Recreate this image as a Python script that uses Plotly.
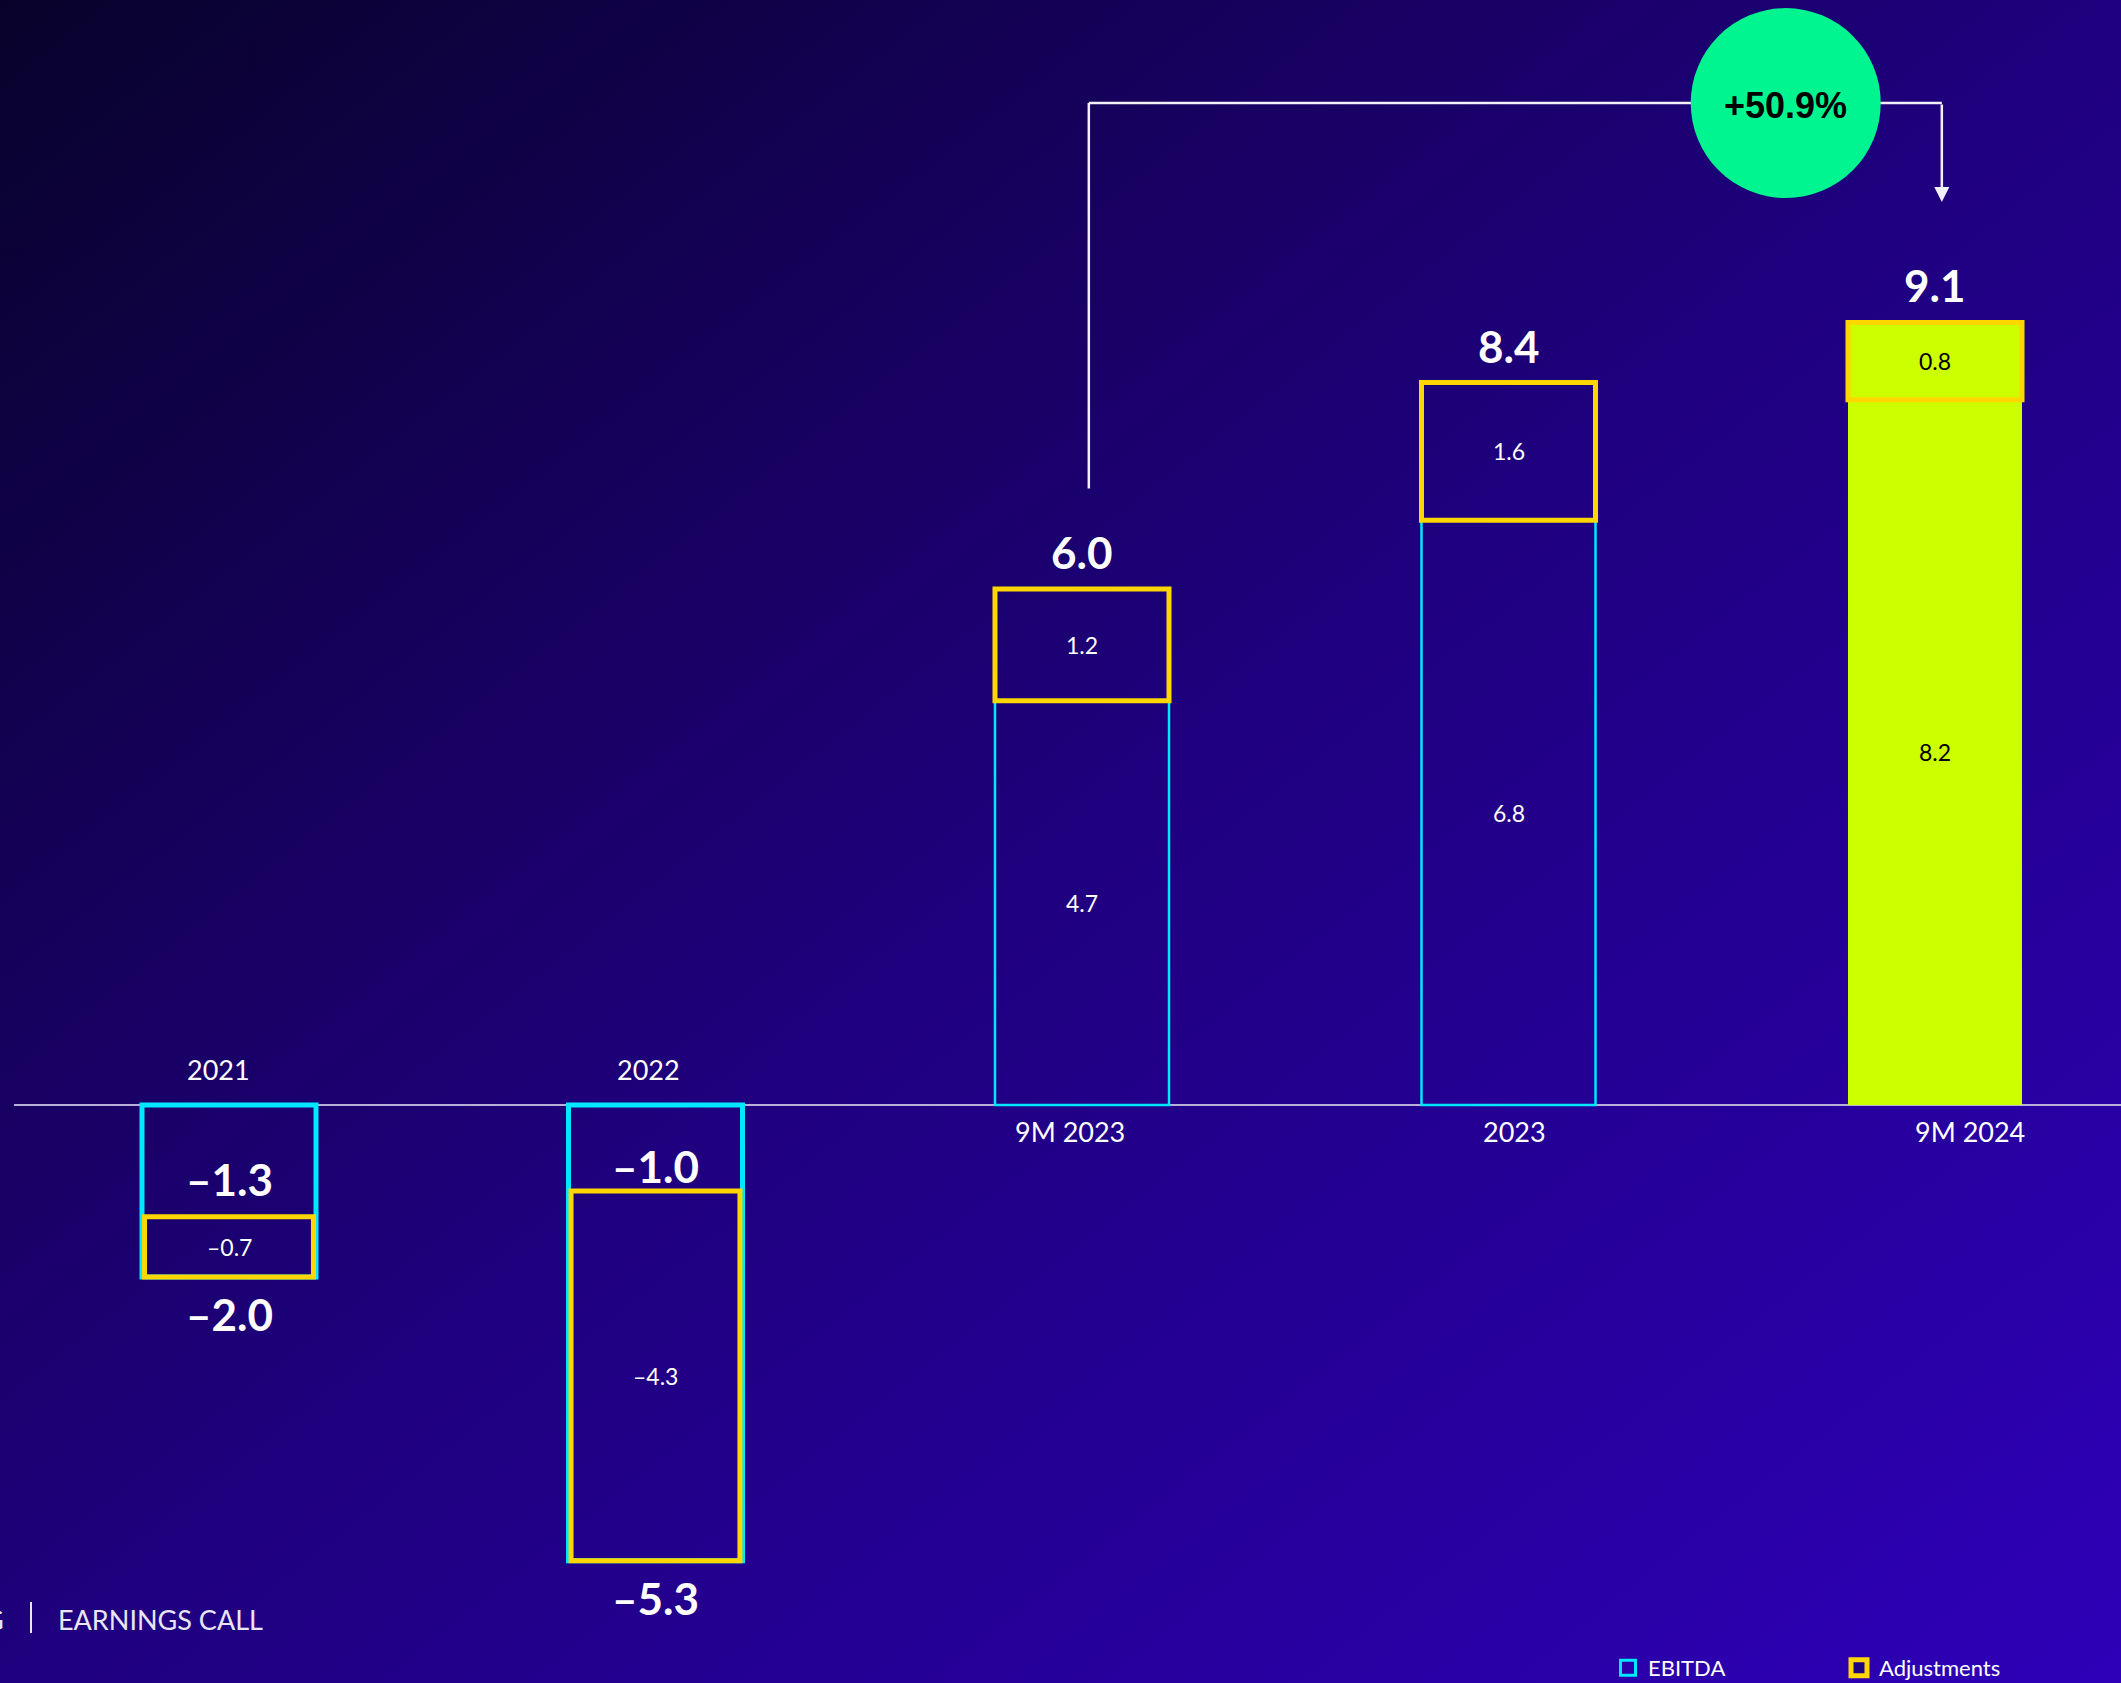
import base64
import plotly.graph_objects as go

# ---------------- data ----------------
categories = ["2021", "2022", "9M 2023", "2023", "9M 2024"]
ebitda = [-1.3, -1.0, 4.7, 6.8, 8.2]
adjustments = [-0.7, -4.3, 1.2, 1.6, 0.8]
totals = [-2.0, -5.3, 6.0, 8.4, 9.1]
highlight = [False, False, False, False, True]
growth_label = "+50.9%"
growth_from, growth_to = 2, 4
footer_left = "G"
footer_right = "EARNINGS CALL"

# ---------------- style ----------------
W, H = 2121, 1683
CYAN = "#00E8FF"
YELLOW = "#FFD700"
LIME = "#CCFF00"
GREEN = "#00F590"
WHITE = "#FFFFFF"
FONT = "Lato"
label_xshift = [-11, -7, -12, 6, 35]

def fmt(v):
    s = f"{abs(v):.1f}"
    return ("\u2013" + s) if v < 0 else s

# gradient background
svg = (
    f'<svg xmlns="http://www.w3.org/2000/svg" width="{W}" height="{H}" preserveAspectRatio="none">'
    '<defs><linearGradient id="g" x1="0" y1="0" x2="1" y2="1">'
    '<stop offset="0" stop-color="#08022b"/>'
    '<stop offset="0.5" stop-color="#1f007e"/>'
    '<stop offset="1" stop-color="#2e00b8"/>'
    '</linearGradient></defs>'
    f'<rect width="{W}" height="{H}" fill="url(#g)"/></svg>'
)
bg_src = "data:image/svg+xml;base64," + base64.b64encode(svg.encode()).decode()

xi = list(range(len(categories)))

# EBITDA box spans to the total for negative years
ebitda_extent = [t if t < 0 else e for e, t in zip(ebitda, totals)]
adj_base = ebitda
adj_height = [t - e for e, t in zip(ebitda, totals)]

fig = go.Figure()
fig.add_trace(go.Bar(
    x=xi, y=ebitda_extent, base=[0] * len(categories),
    width=0.408,
    marker=dict(
        color=[LIME if h else "rgba(0,0,0,0)" for h in highlight],
        line=dict(color=[LIME if h else CYAN for h in highlight],
                  width=[0 if h else (5 if t < 0 else 2.5) for h, t in zip(highlight, totals)]),
    ),
    hoverinfo="skip", showlegend=False,
))
fig.add_trace(go.Bar(
    x=xi, y=adj_height, base=adj_base,
    width=[0.396 if t < 0 else 0.408 for t in totals],
    marker=dict(
        color=[LIME if h else "rgba(0,0,0,0)" for h in highlight],
        line=dict(color=YELLOW, width=5),
    ),
    hoverinfo="skip", showlegend=False,
))

# legend entries
fig.add_trace(go.Scatter(
    x=[None], y=[None], mode="markers", name="EBITDA",
    marker=dict(symbol="square-open", size=15, color=CYAN, line=dict(width=3, color=CYAN)),
))
fig.add_trace(go.Scatter(
    x=[None], y=[None], mode="markers", name="Adjustments",
    marker=dict(symbol="square", size=17, color="#1e0580", line=dict(width=5, color=YELLOW)),
))

ann = []
for i, c in enumerate(categories):
    neg = totals[i] < 0
    dark_text = "#000000" if highlight[i] else WHITE
    # category label
    ann.append(dict(x=i, y=0, text=c, showarrow=False, xshift=label_xshift[i],
                    yshift=36 if neg else -26,
                    font=dict(family=FONT, size=27, color=WHITE)))
    # total label
    ann.append(dict(x=i, y=totals[i], text=fmt(totals[i]), showarrow=False,
                    yshift=-37 if neg else 37,
                    font=dict(family=FONT, size=44, color=WHITE, weight="bold")))
    # ebitda label
    if neg:
        ann.append(dict(x=i, y=ebitda[i] / 2, text=fmt(ebitda[i]), showarrow=False,
                        yshift=-18,
                        font=dict(family=FONT, size=44, color=WHITE, weight="bold")))
    else:
        ann.append(dict(x=i, y=ebitda[i] / 2, text=fmt(ebitda[i]), showarrow=False,
                        font=dict(family=FONT, size=23, color=dark_text)))
    # adjustment label
    ann.append(dict(x=i, y=(ebitda[i] + totals[i]) / 2, text=fmt(adjustments[i]), showarrow=False,
                    font=dict(family=FONT, size=23, color=dark_text)))

# growth bracket
x_from = growth_from + 0.016
x_to = growth_to + 0.016
y_br = max(totals) + 2.55
y_start = totals[growth_from] + 1.17
circ_x = 3.65
rx, ry = 95 / 426.5, 95 / 86

shapes = [
    dict(type="line", xref="paper", yref="y", x0=14 / W, x1=1, y0=0, y1=0,
         line=dict(color="#B8B0D8", width=2), layer="below"),
    dict(type="line", x0=x_from, x1=x_from, y0=y_start, y1=y_br, line=dict(color="#F2F0FA", width=2.5)),
    dict(type="line", x0=x_from, x1=x_to, y0=y_br, y1=y_br, line=dict(color="#F2F0FA", width=2.5)),
    dict(type="circle", x0=circ_x - rx, x1=circ_x + rx, y0=y_br - ry, y1=y_br + ry,
         fillcolor=GREEN, line=dict(width=0)),
    # footer separator
    dict(type="line", xref="paper", yref="paper", x0=31 / W, x1=31 / W,
         y0=1 - 1633 / H, y1=1 - 1602 / H, line=dict(color="#E8E6F2", width=2)),
]
ann.append(dict(x=circ_x, y=y_br, text=growth_label, showarrow=False, yshift=-2,
                font=dict(family="Liberation Sans", size=36, color="#000000", weight="bold")))
ann.append(dict(x=x_to, y=totals[growth_to] + 1.4, ax=x_to, ay=y_br, axref="x", ayref="y",
                text="", showarrow=True, arrowhead=2, arrowsize=1.2, arrowwidth=2.5,
                arrowcolor="#F2F0FA"))
# footer
ann.append(dict(xref="paper", yref="paper", x=6 / W, y=1 - 1619 / H, xanchor="right",
                yanchor="middle", text=footer_left, showarrow=False,
                font=dict(family=FONT, size=27, color="#E8E6F2")))
ann.append(dict(xref="paper", yref="paper", x=56 / W, y=1 - 1619 / H, xanchor="left",
                yanchor="middle", text=footer_right, showarrow=False,
                font=dict(family=FONT, size=27, color="#E8E6F2")))

fig.update_layout(
    width=W, height=H,
    margin=dict(l=0, r=0, t=0, b=0, pad=0, autoexpand=False),
    paper_bgcolor="#1a0470", plot_bgcolor="rgba(0,0,0,0)",
    barmode="overlay",
    xaxis=dict(range=[-229 / 426.5, (W - 229) / 426.5], visible=False, fixedrange=True),
    yaxis=dict(range=[-(H - 1105) / 86, 1105 / 86], visible=False, fixedrange=True),
    images=[dict(source=bg_src, xref="paper", yref="paper", x=0, y=1, sizex=1, sizey=1,
                 xanchor="left", yanchor="top", sizing="stretch", layer="below")],
    shapes=shapes,
    annotations=ann,
    showlegend=True,
    legend=dict(orientation="h", x=1608 / W, xanchor="left", y=1 - 1668 / H, yanchor="middle",
                font=dict(family=FONT, size=22, color=WHITE), bgcolor="rgba(0,0,0,0)",
                entrywidth=186, entrywidthmode="pixels", itemclick=False, itemdoubleclick=False),
)

fig.write_html("out.html", config={"displayModeBar": False},
               post_script="document.body.style.margin='0';document.body.style.overflow='hidden';")
